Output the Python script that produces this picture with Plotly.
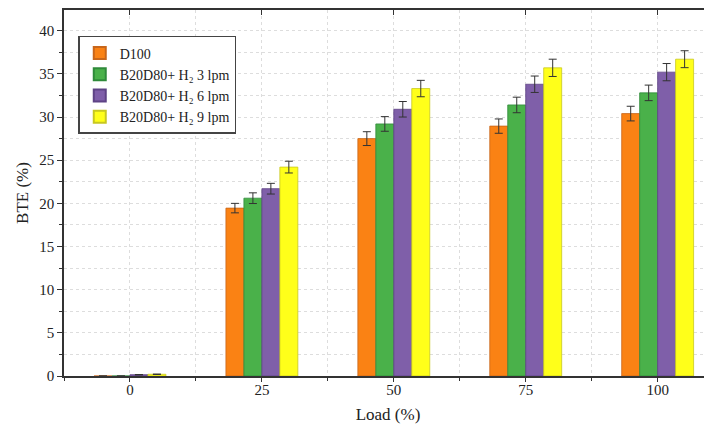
import plotly.graph_objects as go

loads = [0, 25, 50, 75, 100]
series_names = ["D100", "B20D80+ H₂ 3 lpm", "B20D80+ H₂ 6 lpm", "B20D80+ H₂ 9 lpm"]
d100 = [0.0, 19.45, 27.5, 28.95, 30.4]
h2_3 = [0.0, 20.6, 29.2, 31.4, 32.8]
h2_6 = [0.15, 21.7, 30.9, 33.8, 35.2]
h2_9 = [0.2, 24.2, 33.3, 35.7, 36.7]
err_d100 = [0.0, 0.55, 0.8, 0.83, 0.85]
err_h2_3 = [0.0, 0.62, 0.85, 0.9, 0.9]
err_h2_6 = [0.02, 0.62, 0.9, 0.95, 1.0]
err_h2_9 = [0.02, 0.68, 0.95, 1.0, 0.98]

colors = ["#FA8214", "#4AB14A", "#7F5FA9", "#FFFF1A"]
outlines = ["#C8661A", "#2F8A3A", "#5E4385", "#C8C820"]
values = [d100, h2_3, h2_6, h2_9]
errors = [err_d100, err_h2_3, err_h2_6, err_h2_9]

fig = go.Figure()
for name, v, e, c, o in zip(series_names, values, errors, colors, outlines):
    fig.add_trace(go.Bar(
        x=loads, y=v, name=name,
        marker=dict(color=c, line=dict(color=o, width=0.8)),
        error_y=dict(type="data", array=e, visible=True, color="#333333", thickness=1, width=4),
    ))

# invisible trace to draw mirrored top axis ticks
fig.add_trace(go.Scatter(x=loads, y=[None]*len(loads), xaxis="x2", showlegend=False, hoverinfo="skip"))

font = "Liberation Serif, Times New Roman, serif"
fig.update_layout(
    width=704, height=421,
    margin=dict(l=56, r=0, t=2, b=53, autoexpand=False),
    paper_bgcolor="white", plot_bgcolor="white",
    barmode="group", bargap=0.455, bargroupgap=0,
    font=dict(family=font, size=15, color="#222222"),
    legend=dict(x=0.022, y=0.929, xanchor="left", yanchor="top",
                bgcolor="white", bordercolor="#444444", borderwidth=1.5,
                font=dict(family=font, size=14, color="#222222"),
                tracegroupgap=0, itemsizing="constant", entrywidth=120),
    xaxis=dict(range=[-12.5, 110.3], tickvals=loads, ticks="outside", ticklen=4, tickwidth=1.2,
               tickcolor="#333333", showline=True, linecolor="#333333", linewidth=1.5,
               showgrid=True, gridcolor="#DDDDDD", griddash="dot", gridwidth=1,
               minor=dict(dtick=12.5, tick0=0, ticks="outside", ticklen=3, tickcolor="#333333",
                          showgrid=True, gridcolor="#DDDDDD", griddash="dot"),
               title=dict(text="Load (%)", font=dict(size=17), standoff=11),
               tickfont=dict(size=15), ticklabelstandoff=-5, zeroline=False, automargin=False),
    xaxis2=dict(overlaying="x", matches="x", side="top", tickvals=loads, ticks="inside", ticklen=5,
                tickcolor="#333333", showticklabels=False, showline=True, linecolor="#333333",
                linewidth=1.5, showgrid=False, zeroline=False),
    yaxis=dict(range=[0, 42.4], dtick=5, ticks="outside", ticklen=5, tickwidth=1.2,
               tickcolor="#333333", showline=True, linecolor="#333333", linewidth=1.5,
               showgrid=True, gridcolor="#DDDDDD", griddash="dot", gridwidth=1,
               minor=dict(dtick=2.5, ticks="outside", ticklen=3, tickcolor="#333333",
                          showgrid=True, gridcolor="#DDDDDD", griddash="dot"),
               title=dict(text="BTE (%)", font=dict(size=17), standoff=6),
               tickfont=dict(size=15), zeroline=False, automargin=False),
)

fig.write_html("out.html")
